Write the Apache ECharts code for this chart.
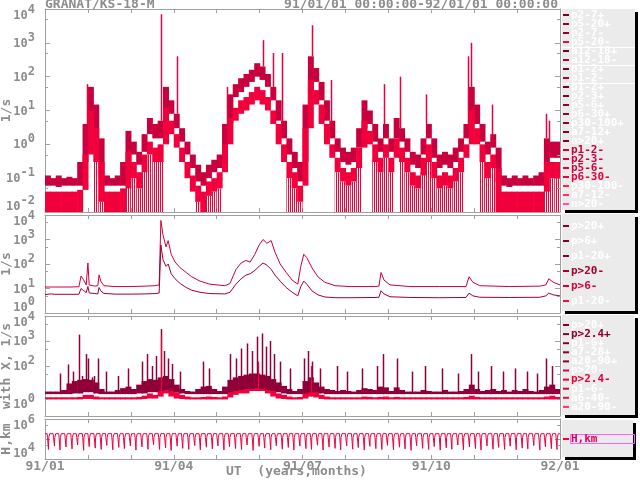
<!DOCTYPE html>
<html><head><meta charset="utf-8">
<script src="https://cdn.jsdelivr.net/npm/echarts@6/dist/echarts.min.js"></script>
<style>html,body{margin:0;padding:0;background:#fff}#c{width:640px;height:480px}</style>
</head><body><div id="c"></div>
<script>
// ---------------- DATA ----------------
const monthLabels = ['91/01','','','91/04','','','91/07','','','91/10','','','92/01'];
// Panel 1: min/max envelopes per 1/8-month bin (96 bins)
const p1aLo = [0.01,0.01,0.01,0.01,0.01,0.01,0.01,0.1,3,0.3, 0.02,0.01,0.01,0.01,0.01,0.2,0.1,0.05,0.2,0.5, 0.3,0.3,4,2,0.8,0.3,0.1,0.04,0.02,0.01, 0.03,0.04,0.05,0.3,2,5,8,10,15,20, 15,10,4,1,0.3,0.1,0.05,0.02,0.5,30, 15,4,1,0.4,0.15,0.08,0.06,0.08,0.3,2, 1,0.3,0.15,0.4,0.15,0.6,0.3,0.15,0.06,0.05, 0.15,0.3,0.1,0.05,0.06,0.05,0.08,0.15,0.4,3, 1,0.3,0.1,0.2,0.01,0.01,0.01,0.01,0.01,0.01, 0.01,0.01,0.01,0.05,0.1,0.1];
const p1aHi = [0.04,0.04,0.04,0.04,0.04,0.04,0.045,0.5,10,1.2, 0.08,0.04,0.04,0.04,0.05,0.6,0.3,0.15,0.5,1.2, 0.8,1,12,5,2,0.8,0.3,0.12,0.06,0.04, 0.08,0.1,0.15,1,6,12,20,25,35,50, 40,25,10,3,1,0.3,0.15,0.06,3,80, 40,10,3,1,0.4,0.2,0.15,0.2,0.8,5, 2.5,0.8,0.4,1,0.4,1.5,0.8,0.4,0.15,0.12, 0.4,1,0.3,0.12,0.15,0.12,0.2,0.4,1,10, 2.5,0.8,0.3,0.5,0.06,0.04,0.04,0.04,0.04,0.04, 0.04,0.04,0.04,0.3,0.3,0.3];
const p1bLo = [0.06,0.06,0.055,0.06,0.06,0.06,0.06,0.6,15,1.5, 0.1,0.06,0.06,0.06,0.06,1,0.5,0.25,0.8,2.5, 1.5,1.5,20,8,3,1.2,0.5,0.2,0.08,0.06, 0.1,0.15,0.2,1.5,10,25,35,50,70,100, 80,50,20,5,1.5,0.5,0.2,0.08,3,150, 70,20,5,1.5,0.6,0.3,0.25,0.3,1,8, 4,1.2,0.6,1.5,0.6,2.5,1.2,0.6,0.25,0.2, 0.6,1.5,0.4,0.2,0.25,0.2,0.3,0.6,1.5,15, 4,1.2,0.5,0.8,0.08,0.06,0.055,0.06,0.06,0.06, 0.06,0.06,0.06,0.3,0.4,0.4];
const p1bHi = [0.12,0.1,0.12,0.1,0.11,0.1,0.3,4,50,5, 0.4,0.12,0.1,0.12,0.3,2.5,1.2,0.6,2,6, 4,5,50,20,8,3,1.2,0.5,0.25,0.15, 0.25,0.35,0.5,4,30,60,90,120,160,250, 200,120,50,12,4,1.5,0.6,0.3,15,400, 180,50,12,4,1.5,0.8,0.6,0.8,3,20, 10,3,1.5,4,1.5,6,3,1.5,0.6,0.5, 1.5,4,1,0.5,0.6,0.5,0.8,1.5,4,50, 10,3,1.2,2,0.4,0.12,0.1,0.12,0.1,0.12, 0.1,0.12,0.15,1.5,1.2,1.2];
// bins where the lowest channel repeatedly drops to the floor
const p1DropBins = [9,10,15,16,17,18,19,20,21,28,30,31,32,45,46,47,54,55,56,57,58,61,62,63,64,66,67,68,69,70,71,72,73,74,75,76,77,81,82,83,93,94,95];
const p1SpikeT = [0.98,2.70,3.08,4.24,5.08,5.31,5.52,6.22,6.67,7.90,8.28,8.88,9.85,9.93,10.42,11.68,11.75];
const p1SpikeV = [60,7000,400,50,1200,500,500,3300,80,60,100,30,400,1000,15,8,5];
// Panel 2: two flux lines
const p2T  = [0.00,0.12,0.23,0.35,0.58,0.79,0.84,0.89,0.96,1.00,1.03,1.16,1.23,1.26,1.30,1.37,1.63,1.98,2.33,2.56,2.66,2.70,2.75,2.82,2.87,2.94,3.03,3.15,3.29,3.42,3.61,3.84,4.19,4.31,4.45,4.57,4.68,4.78,4.89,4.99,5.08,5.17,5.27,5.36,5.48,5.62,5.76,5.89,5.96,6.03,6.10,6.22,6.36,6.52,6.76,7.11,7.69,7.78,7.83,7.90,8.04,8.50,9.20,9.81,9.88,9.97,10.13,10.83,11.53,11.67,11.74,11.84,12.00];
const p2Up = [11.5,11.5,11.5,11.5,11.5,11.8,32,24,14,110,14,12.5,13,36,20,13,12,12,12.5,13,14,6000,1500,500,900,250,120,70,45,30,20,15,13,16,60,110,140,120,250,600,1000,700,900,300,100,45,22,15,80,250,180,70,30,18,13,12,12,12.5,45,22,14,12,12,12,30,18,13,12,12.5,14,25,18,14];
const p2Lo = [5.6,6.0,5.8,5.8,5.8,5.8,10,8.5,6.8,12,6.6,6.2,6.0,11,8,6.3,5.9,5.9,6.0,6.2,6.5,600,150,80,100,40,25,16,11,8.5,7,6.2,6,7,15,25,35,40,55,80,110,90,60,35,20,11,7,5,12,20,15,8,5.5,4.5,4.2,4.2,4.3,4.4,8,6,4.6,4.3,4.2,4.3,6.5,5,4.4,4.3,4.4,5,6.5,5.5,5];
// Panel 3: envelopes per bin + spikes
const p3uLo = [7.5,7.5,7.5,7.5,7.5,8,8,9,9,8, 7.5,7.5,7.5,7.5,7.5,7.5,7.5,8,8,9, 9,10,11,10,9,8,7.5,7.5,7.5,7.5, 7.5,7.5,7.5,7.5,9,10,11,12,12,13, 12,11,10,9,8,7.5,7.5,7.5,8,9, 9,8,7.5,7.5,7.5,7.5,7.5,7.5,7.5,7.5, 7.5,7.5,7.5,7.5,7.5,7.5,7.5,7.5,7.5,7.5, 7.5,7.5,7.5,7.5,7.5,7.5,7.5,7.5,7.5,7.5, 7.5,7.5,7.5,7.5,7.5,7.5,7.5,7.5,7.5,7.5, 7.5,7.5,7.5,7.5,7.5,7.5];
const p3uHi = [9.5,9.5,9.5,11,20,25,28,30,28,22, 12,9.5,9.5,11,13,15,12,18,25,30, 28,35,40,30,18,12,10,9.5,12,15, 16,12,10,15,28,35,40,45,50,50, 45,40,30,22,16,12,10,12,25,35, 22,15,12,11,10,11,10,9.5,11,13, 12,11,15,14,10,14,11,9.5,9.5,9.5, 11,10,9.5,9.5,11,9.5,9.5,10,12,18, 12,10,11,12,10,11,9.5,11,10,12, 10,9.5,11,15,18,12];
const p3lLo = [4.6,4.6,4.6,4.6,4.6,4.6,4.6,4.8,4.8,4.6, 4.6,4.6,4.6,4.6,4.6,4.6,4.6,4.6,4.8,5, 5,6,8,6,5,4.8,4.6,4.6,4.6,4.6, 4.6,4.6,4.6,4.6,5.5,7,8,8,10,10, 10,8,6,5,4.8,4.6,4.6,4.6,5,6, 5.5,4.8,4.6,4.6,4.6,4.6,4.6,4.6,4.6,4.6, 4.6,4.6,4.6,4.6,4.6,4.6,4.6,4.6,4.6,4.6, 4.6,4.6,4.6,4.6,4.6,4.6,4.6,4.6,4.6,4.6, 4.6,4.6,4.6,4.6,4.6,4.6,4.6,4.6,4.6,4.6, 4.6,4.6,4.6,4.6,4.6,4.6];
const p3lHi = [5.6,5.6,5.6,5.6,5.6,5.6,5.8,7,7,6, 5.6,5.6,5.6,5.6,5.6,5.6,5.6,5.8,6.5,8, 7,15,20,12,9,7,6,5.6,5.6,5.8, 6,5.8,5.6,6,10,14,16,18,20,22, 20,16,12,8,7,6,5.6,5.8,9,14, 10,7,6,5.6,5.6,5.6,5.6,5.6,5.6,6, 5.8,5.6,5.8,6,5.6,5.8,5.6,5.6,5.6,5.6, 5.6,5.6,5.6,5.6,5.6,5.6,5.6,5.6,5.8,6.5, 5.8,5.6,5.6,5.6,5.6,5.6,5.6,5.6,5.6,5.6, 5.6,5.6,5.6,6,6.5,5.8];
const p3SpikeT = [0.35,0.54,0.65,0.79,0.86,0.96,1.00,1.10,1.14,1.23,1.42,1.70,1.93,2.26,2.38,2.49,2.59,2.70,2.77,2.87,2.96,3.15,3.68,3.82,4.31,4.45,4.57,4.71,4.82,4.94,5.06,5.15,5.24,5.34,5.48,5.71,6.03,6.13,6.22,6.41,6.80,7.04,7.39,7.74,7.88,8.20,8.55,8.85,9.25,9.62,9.93,10.09,10.39,10.67,10.95,11.23,11.46,11.67,11.81];
const p3SpikeV = [50,115,60,1800,40,300,200,35,40,200,60,40,80,150,300,100,250,3000,400,200,120,60,150,80,300,200,500,800,400,1500,2000,600,1000,300,150,80,200,400,150,80,100,60,80,100,300,200,60,100,80,50,300,60,100,60,80,60,50,200,100];
const p3RedSpikeT = [2.70,4.97,6.20];
const p3RedSpikeV = [1500,150,100];
// Panel 4: orbit altitude (perigee times in months, perigee heights in km)
const orbitDipT = [0.08,0.22,0.35,0.49,0.63,0.76,0.90,1.03,1.17,1.31, 1.44,1.58,1.72,1.85,1.99,2.12,2.26,2.40,2.53,2.67, 2.81,2.94,3.08,3.21,3.35,3.49,3.62,3.76,3.90,4.03, 4.17,4.30,4.44,4.58,4.71,4.85,4.99,5.12,5.26,5.39, 5.53,5.67,5.80,5.94,6.08,6.21,6.35,6.48,6.62,6.76, 6.89,7.03,7.17,7.30,7.44,7.57,7.71,7.85,7.98,8.12, 8.26,8.39,8.53,8.66,8.80,8.94,9.07,9.21,9.35,9.48, 9.62,9.75,9.89,10.03,10.16,10.30,10.44,10.57,10.71,10.84, 10.98,11.12,11.25,11.39,11.53,11.66,11.80,11.93];
const orbitDipH = [30000,45000,28000,40000,32000,50000,27000,42000,35000,30000, 48000,29000,38000,33000,45000,28000,40000,31000,52000,30000, 36000,27000,44000,34000,30000,47000,29000,39000,32000,45000, 28000,41000,33000,30000,50000,27000,43000,35000,29000,46000, 31000,38000,28000,44000,33000,30000,49000,28000,40000,34000, 29000,45000,31000,37000,28000,43000,33000,30000,48000,29000, 39000,32000,27000,46000,34000,30000,42000,28000,36000,31000, 50000,29000,40000,33000,28000,45000,31000,38000,30000,44000, 29000,35000,32000,47000,28000,41000,33000,30000];
const orbitTopH = 185000;
const orbitShoulderH = 120000;
// Legends
const leg1Labels = ['p2-7+','p5-20+','p2-7-','p5-20-','a12-18+','a12-18-','p1-2+','p1-2-','p1-2+','p2-3+','p5-6+','p6-30+','p30-100+','a7-12+','n>20+','p1-2-','p2-3-','p5-6-','p6-30-','p30-100-','a7-12-','n>20-'];
const leg2Labels = ['p>20+','p>6+','p1-20+','p>20-','p>6-','p1-20-'];
const leg3Labels = ['p>20+','p>2.4+','p1-6+','a7-28+','a20-90+','p>20-','p>2.4-','p1-6-','a6-40-','a20-90-'];
const leg4Labels = ['H,km'];

// ---------------- STYLE / LAYOUT ----------------
const FONT = 'DejaVu Sans Mono';
const GRAY = '#8c8c8c';
const AX = '#a0a0a0';
const BIN = 1 / 8;
const W = '#ffffff';
const leg1Dash = ['#700028','#900030','#900030','#d81050','#700028','#b00038','#700028','#b00038','#700028','#800030','#900030','#900030','#900030','#800030','#800030','#d0003a','#d8003c','#e4003c','#ee003c','#ff2050','#ff3070','#ff50b8'];
const leg1Text = [W,W,W,W,W,W,W,W,W,W,W,W,W,W,W,'#cc0036','#d0003a','#d8003c','#e0003c',W,W,W];
const leg2Dash = ['#800030','#800030','#800030','#a00030','#d0003c','#e0104a'];
const leg2Text = [W,W,W,'#a0002c','#d8003c',W];
const leg3Dash = ['#800030','#800030','#800030','#800030','#800030','#e0003c','#e0003c','#e0003c','#e8104a','#ff3070'];
const leg3Text = [W,'#900030',W,W,W,W,'#e8003c',W,W,W];

const grids = [
  {left:45, right:80, top:9, height:203, outerBoundsMode:'none', containLabel:false},
  {left:45, right:80, top:215, height:98, outerBoundsMode:'none', containLabel:false},
  {left:45, right:80, top:316, height:100, outerBoundsMode:'none', containLabel:false},
  {left:45, right:80, top:419, height:40, outerBoundsMode:'none', containLabel:false}
];
const yMin = [0.01, 1, 1, 10000];
const yMax = [10000, 10000, 10000, 1000000];
const yNames = ['1/s','1/s','with X, 1/s','H,km'];
const minorVals = [[0.05,0.5,5,50,500,5000],[5,50,500,5000],[5,50,500,5000],[50000,500000]];
const minShift = [1,1,2,1];

function stripe(color, period, on) {
  const c = document.createElement('canvas');
  c.width = period; c.height = 4;
  const g = c.getContext('2d'); g.fillStyle = color; g.fillRect(0, 0, on, 4);
  return {image: c, repeat: 'repeat'};
}

const xAxes = [], yAxes = [];
grids.forEach((g, gi) => {
  const cx = {type:'value', gridIndex:gi, min:0, max:12, interval:1, splitLine:{show:false},
    axisLine:{onZero:false, lineStyle:{color:AX, width:1}},
    axisTick:{inside:true, length:4, lineStyle:{color:AX}}};
  xAxes.push(Object.assign({}, cx, {position:'bottom',
    axisLabel: gi === 3 ? {show:true, margin:1, hideOverlap:false, formatter: v => monthLabels[Math.round(v)] || '',
      fontFamily:FONT, fontSize:13, fontWeight:'bold', color:GRAY, showMinLabel:true, showMaxLabel:true} : {show:false}}));
  xAxes.push(Object.assign({}, cx, {position:'top', axisLabel:{show:false}}));
  const maxE = Math.round(Math.log10(yMax[gi])), minE = Math.round(Math.log10(yMin[gi]));
  const cy = {type:'log', logBase:10, gridIndex:gi, min:yMin[gi], max:yMax[gi], splitLine:{show:false},
    axisLine:{onZero:false, lineStyle:{color:AX, width:1}},
    axisTick:{inside:true, length:5, lineStyle:{color:AX}}};
  yAxes.push(Object.assign({}, cy, {position:'left',
    name: yNames[gi], nameLocation:'middle', nameGap:32, nameRotate:90, nameMoveOverlap:false,
    nameTextStyle:{fontFamily:FONT, fontSize:13, fontWeight:'bold', color:GRAY},
    axisLabel:{margin:10, lineHeight:12, showMinLabel:true, showMaxLabel:true, hideOverlap:false,
      formatter: v => {
        const e = Math.round(Math.log10(v));
        if (gi === 3 && e === 5) return '';
        let s = '{b|10}{s|' + e + '}';
        if (e === maxE) s = '\n' + s;
        if (e === minE) s = s + '\n'.repeat(minShift[gi]);
        return s;
      },
      rich:{
        b:{fontFamily:FONT, fontSize:12, fontWeight:'bold', color:GRAY, lineHeight:14, verticalAlign:'bottom'},
        s:{fontFamily:FONT, fontSize:12, fontWeight:'bold', color:GRAY, lineHeight:14, padding:[0,0,6,0], verticalAlign:'bottom'}
      }}}));
  yAxes.push(Object.assign({}, cy, {position:'right', axisLabel:{show:false}}));
});

function bandSeries(gi, lo, hi, color, z) {
  const data = lo.map((l, i) => {
    let a = l, b = hi[i];
    if (i > 0) { a = Math.min(a, hi[i-1]); b = Math.max(b, lo[i-1]); }
    return [i * BIN, (i + 1) * BIN, a, b];
  });
  return {type:'custom', xAxisIndex:gi*2, yAxisIndex:gi*2, clip:true, z:z, silent:true,
    encode:{x:[0,1], y:[2,3]}, data:data,
    renderItem:(params, api) => {
      const p0 = api.coord([api.value(0), api.value(3)]);
      const p1 = api.coord([api.value(1), api.value(2)]);
      let y = p0[1], h = p1[1] - p0[1];
      if (h < 1.5) { y -= (1.5 - h) / 2; h = 1.5; }
      return {type:'rect', shape:{x:p0[0], y:y, width:p1[0]-p0[0]+0.6, height:h}, style:{fill:color}};
    }};
}
function dropSeries(gi, bins, lo, floor, color, z) {
  const pat = stripe(color, 2, 1);
  const data = bins.map(i => [i * BIN, (i + 1) * BIN, floor, lo[i]]);
  return {type:'custom', xAxisIndex:gi*2, yAxisIndex:gi*2, clip:true, z:z, silent:true,
    encode:{x:[0,1], y:[2,3]}, data:data,
    renderItem:(params, api) => {
      const p0 = api.coord([api.value(0), api.value(3)]);
      const p1 = api.coord([api.value(1), api.value(2)]);
      return {type:'rect', shape:{x:p0[0], y:p0[1], width:p1[0]-p0[0], height:p1[1]-p0[1]}, style:{fill:pat}};
    }};
}
function spikeSeries(gi, T, V, baseArr, color, width, z) {
  const data = T.map((t, i) => [t, baseArr[Math.min(baseArr.length-1, Math.floor(t / BIN))], V[i]]);
  return {type:'custom', xAxisIndex:gi*2, yAxisIndex:gi*2, clip:true, z:z, silent:true,
    encode:{x:0, y:[1,2]}, data:data,
    renderItem:(params, api) => {
      const a = api.coord([api.value(0), api.value(1)]);
      const b = api.coord([api.value(0), api.value(2)]);
      const x = Math.round(a[0]) + 0.5;
      return {type:'line', shape:{x1:x, y1:a[1], x2:x, y2:b[1]}, style:{stroke:color, lineWidth:width}};
    }};
}
function minorSeries(gi, vals) {
  return {type:'custom', xAxisIndex:gi*2, yAxisIndex:gi*2, z:6, silent:true,
    encode:{x:0, y:1}, data: vals.map(v => [0, v]),
    renderItem:(params, api) => {
      const l = api.coord([0, api.value(1)]);
      const r = api.coord([12, api.value(1)]);
      const y = Math.round(l[1]) + 0.5;
      return {type:'group', children:[
        {type:'line', shape:{x1:l[0], y1:y, x2:l[0]+3, y2:y}, style:{stroke:AX, lineWidth:1}},
        {type:'line', shape:{x1:r[0], y1:y, x2:r[0]-3, y2:y}, style:{stroke:AX, lineWidth:1}}]};
    }};
}

const orbitData = [[0, orbitTopH]];
orbitDipT.forEach((t, i) => {
  orbitData.push([t - 0.03, orbitTopH]);
  orbitData.push([t - 0.022, orbitShoulderH]);
  orbitData.push([t - 0.008, orbitShoulderH]);
  orbitData.push([t, orbitDipH[i]]);
  orbitData.push([t + 0.008, orbitShoulderH]);
  orbitData.push([t + 0.022, orbitShoulderH]);
  orbitData.push([t + 0.03, orbitTopH]);
});
orbitData.push([12, orbitTopH]);

const series = [
  dropSeries(0, p1DropBins, p1aLo, 0.01, '#f2003c', 1),
  bandSeries(0, p1bLo, p1bHi, '#c8003e', 2),
  bandSeries(0, p1aLo, p1aHi, '#f2003c', 3),
  spikeSeries(0, p1SpikeT, p1SpikeV, p1bHi, '#e8003c', 1.5, 4),
  {type:'line', xAxisIndex:2, yAxisIndex:2, data:p2T.map((t,i)=>[t,p2Up[i]]), showSymbol:false, symbol:'none', lineStyle:{color:'#cc003c', width:1}, z:3},
  {type:'line', xAxisIndex:2, yAxisIndex:2, data:p2T.map((t,i)=>[t,p2Lo[i]]), showSymbol:false, symbol:'none', lineStyle:{color:'#a0002e', width:1}, z:3},
  bandSeries(2, p3lLo, p3lHi, '#f0003c', 2),
  bandSeries(2, p3uLo, p3uHi, '#900038', 3),
  spikeSeries(2, p3SpikeT, p3SpikeV, p3uLo, '#900038', 1.5, 4),
  spikeSeries(2, p3RedSpikeT, p3RedSpikeV, p3lLo, '#f0003c', 1.2, 4),
  {type:'line', xAxisIndex:6, yAxisIndex:6, data:orbitData, showSymbol:false, symbol:'none', lineStyle:{color:'#f0003c', width:1}, z:3}
];
minorVals.forEach((v, gi) => series.push(minorSeries(gi, v)));

// legend graphics
const graphics = [];
const LFONT = 'bold 11px "' + FONT + '"';
function box(x, y, w, h) {
  graphics.push({type:'rect', shape:{x:x+3, y:y+3, width:w, height:h}, style:{fill:'#000'}, z:1});
  graphics.push({type:'rect', shape:{x:x, y:y, width:w, height:h}, style:{fill:'#ebebeb'}, z:2});
}
function entries(labels, dash, text, y0, dy) {
  labels.forEach((lab, i) => {
    const y = y0 + i * dy;
    graphics.push({type:'line', shape:{x1:563, y1:y, x2:569, y2:y}, style:{stroke:dash[i], lineWidth:2}, z:3});
    graphics.push({type:'text', x:571, y:y, z:3, style:{text:lab, fill:text[i], font:LFONT, verticalAlign:'middle'}});
  });
}
box(562, 9, 73, 201);
[47.5, 65.5, 83.5].forEach(y => graphics.push({type:'line', shape:{x1:562, y1:y, x2:635, y2:y}, style:{stroke:'#fff', lineWidth:1}, z:3}));
entries(leg1Labels, leg1Dash, leg1Text, 15, 9);
box(562, 214, 73, 97);
entries(leg2Labels, leg2Dash, leg2Text, 226, 15);
box(562, 315, 73, 100);
entries(leg3Labels, leg3Dash, leg3Text, 325, 9.1);
box(562, 420, 71, 37);
graphics.push({type:'rect', shape:{x:570.5, y:434.5, width:64, height:9}, style:{fill:'none', stroke:'#ff60ff', lineWidth:1}, z:3});
entries(leg4Labels, ['#f0003c'], ['#e0005a'], 439, 9);
// titles
graphics.push({type:'text', x:45, y:5, style:{text:'GRANAT/KS-18-M', fill:GRAY, font:'bold 13px "' + FONT + '"', verticalAlign:'middle'}});
graphics.push({type:'text', x:558, y:5, style:{text:'91/01/01 00:00:00-92/01/01 00:00:00', fill:GRAY, font:'bold 13px "' + FONT + '"', align:'right', verticalAlign:'middle'}});
graphics.push({type:'text', x:226, y:472, style:{text:'UT  (years,months)', fill:GRAY, font:'bold 13px "' + FONT + '"', verticalAlign:'middle'}});

const chart = echarts.init(document.getElementById('c'), null, {renderer:'canvas'});
chart.setOption({
  animation:false,
  backgroundColor:'#ffffff',
  grid: grids,
  xAxis: xAxes,
  yAxis: yAxes,
  series: series,
  graphic: graphics
});
</script>
</body></html>
